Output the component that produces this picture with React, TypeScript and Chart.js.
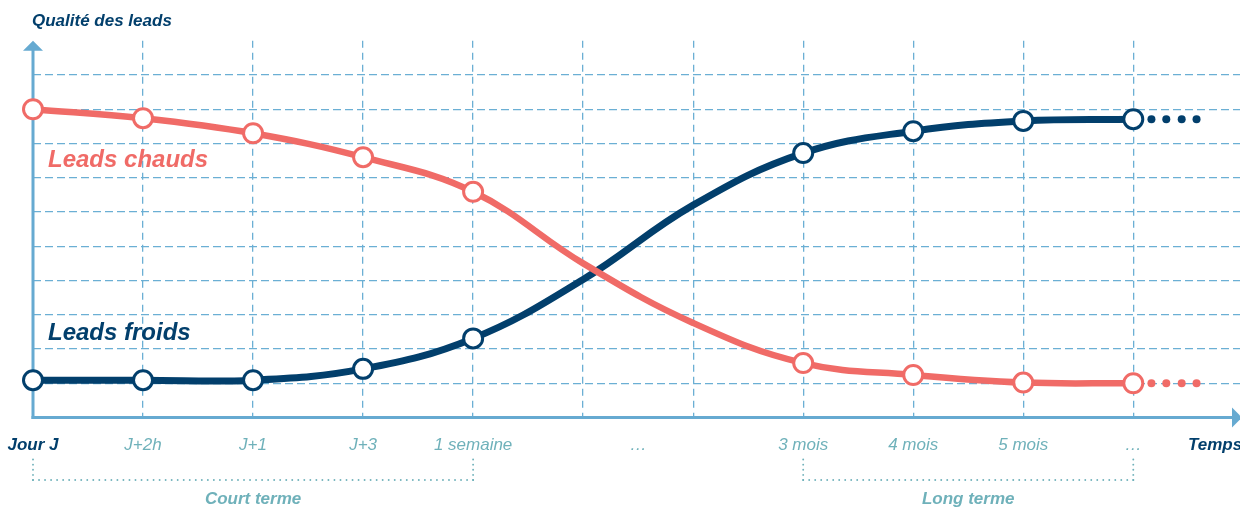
import React, { useEffect, useRef } from 'react';
import { Chart, registerables } from 'chart.js';

Chart.register(...registerables);

// ---- data ----
const xPositions = [0, 1, 2, 3, 4, 5, 6, 7, 8, 9, 10];
const hotLeads = [9.0, 8.74, 8.3, 7.6, 6.59, 4.5, 2.76, 1.59, 1.24, 1.02, 1.0];
const coldLeads = [1.09, 1.09, 1.09, 1.42, 2.31, 4.03, 6.2, 7.72, 8.36, 8.66, 8.71];
const markerShown = [true, true, true, true, true, false, false, true, true, true, true];
const tickLabels = ['Jour J', 'J+2h', 'J+1', 'J+3', '1 semaine', '…', '3 mois', '4 mois', '5 mois', '…'];
const tickLabelPositions = [0, 1, 2, 3, 4, 5.5, 7, 8, 9, 10];
const trailX = [10.165, 10.3, 10.44, 10.575];
const periodNames = ['Court terme', 'Long terme'];
const periodStarts = [0, 7];
const periodEnds = [4, 10];
const yTitle = 'Qualité des leads';
const xTitle = 'Temps';
const hotLabel = 'Leads chauds';
const coldLabel = 'Leads froids';

// ---- styles ----
const RED = '#F06B67';
const BLUE = '#023F6C';
const GRID = '#6BAFD4';
const AXIS = '#66AAD1';
const TEAL = '#6FB1BA';
const FONT = '"Liberation Sans", Arial, Helvetica, sans-serif';

const decorPlugin = {
  id: 'decor',
  beforeDatasetsDraw(chart: any) {
    const { ctx, chartArea: a, scales } = chart;
    const x = scales.x, y = scales.y;
    const x0 = x.getPixelForValue(0);
    const y0 = y.getPixelForValue(0);
    ctx.save();
    ctx.strokeStyle = AXIS;
    ctx.fillStyle = AXIS;
    ctx.lineWidth = 3;
    // y axis
    ctx.beginPath();
    ctx.moveTo(x0, y0 + 1.5);
    ctx.lineTo(x0, a.top + 6);
    ctx.stroke();
    ctx.beginPath();
    ctx.moveTo(x0, a.top);
    ctx.lineTo(x0 - 10, a.top + 10);
    ctx.lineTo(x0 + 10, a.top + 10);
    ctx.closePath();
    ctx.fill();
    // x axis
    ctx.beginPath();
    ctx.moveTo(x0 - 1.5, y0);
    ctx.lineTo(a.right - 6, y0);
    ctx.stroke();
    ctx.beginPath();
    ctx.moveTo(a.right + 2, y0);
    ctx.lineTo(a.right - 8, y0 - 10);
    ctx.lineTo(a.right - 8, y0 + 10);
    ctx.closePath();
    ctx.fill();
    ctx.restore();
  },
  afterDraw(chart: any) {
    const { ctx, scales } = chart;
    const x = scales.x, y = scales.y;
    const x0 = x.getPixelForValue(0);
    const y0 = y.getPixelForValue(0);
    ctx.save();
    ctx.textBaseline = 'middle';

    // axis titles
    ctx.fillStyle = BLUE;
    ctx.font = `italic bold 17px ${FONT}`;
    ctx.textAlign = 'left';
    ctx.fillText(yTitle, x0 - 1, 21);
    ctx.fillText(xTitle, 1188, y0 + 28);

    // series labels
    ctx.font = `italic bold 24px ${FONT}`;
    ctx.fillStyle = RED;
    ctx.fillText(hotLabel, x0 + 15, 160);
    ctx.fillStyle = BLUE;
    ctx.fillText(coldLabel, x0 + 15, 333);

    // tick labels
    ctx.textAlign = 'center';
    tickLabels.forEach((lab, i) => {
      const px = x.getPixelForValue(tickLabelPositions[i]);
      if (i === 0) {
        ctx.font = `italic bold 17px ${FONT}`;
        ctx.fillStyle = BLUE;
      } else {
        ctx.font = `italic 17px ${FONT}`;
        ctx.fillStyle = TEAL;
      }
      ctx.fillText(lab, px, y0 + 28);
    });

    // brackets
    ctx.fillStyle = TEAL;
    const dots = (xa: number, ya: number, xb: number, yb: number, step: number) => {
      const len = Math.hypot(xb - xa, yb - ya);
      const n = Math.max(1, Math.round(len / step));
      for (let k = 0; k <= n; k++) {
        const t = k / n;
        ctx.beginPath();
        ctx.arc(xa + (xb - xa) * t, ya + (yb - ya) * t, 0.95, 0, Math.PI * 2);
        ctx.fill();
      }
    };
    const by = y0 + 62.5;
    periodNames.forEach((name, i) => {
      const xa = x.getPixelForValue(periodStarts[i]);
      const xb = x.getPixelForValue(periodEnds[i]);
      dots(xa, y0 + 42, xa, by, 5);
      dots(xb, y0 + 42, xb, by, 5);
      dots(xa, by, xb, by, 6);
      ctx.font = `italic bold 17px ${FONT}`;
      ctx.fillStyle = TEAL;
      ctx.fillText(name, (xa + xb) / 2, y0 + 82);
    });
    ctx.restore();
  },
};

const lineDataset = (values: number[], color: string, width: number, order: number) => ({
  data: values.map((v, i) => ({ x: xPositions[i], y: v })),
  borderColor: color,
  borderWidth: width,
  backgroundColor: color,
  pointRadius: markerShown.map((s) => (s ? 9.5 : 0)),
  pointHoverRadius: markerShown.map((s) => (s ? 9.5 : 0)),
  pointBorderWidth: 3,
  pointBackgroundColor: '#FFFFFF',
  pointBorderColor: color,
  tension: 0.4,
  clip: false as const,
  order,
});

const trailDataset = (values: number[], color: string) => ({
  data: trailX.map((tx) => ({ x: tx, y: values[values.length - 1] })),
  showLine: false,
  pointRadius: 4,
  pointHoverRadius: 4,
  pointBorderWidth: 0,
  pointBackgroundColor: color,
  borderColor: color,
  clip: false as const,
  order: 3,
});

export default function App() {
  const ref = useRef<HTMLCanvasElement | null>(null);
  useEffect(() => {
    if (!ref.current) return;
    const chart = new Chart(ref.current, {
      type: 'line',
      data: {
        datasets: [
          lineDataset(hotLeads, RED, 6.5, 1),
          lineDataset(coldLeads, BLUE, 7, 2),
          trailDataset(hotLeads, RED),
          trailDataset(coldLeads, BLUE),
        ] as any,
      },
      options: {
        animation: false,
        responsive: false,
        devicePixelRatio: 1,
        events: [],
        layout: { autoPadding: false, padding: { left: 33, top: 40.75, right: 0, bottom: 90.5 } },
        plugins: { legend: { display: false }, tooltip: { enabled: false } },
        scales: {
          x: {
            type: 'linear',
            min: 0,
            max: 10.97,
            ticks: { display: false, stepSize: 1, includeBounds: false },
            grid: {
              drawTicks: false,
              lineWidth: 1.3,
              color: (c: any) => (c.tick && c.tick.value >= 1 && Number.isInteger(c.tick.value) ? GRID : 'rgba(0,0,0,0)'),
            },
            border: { display: false, dash: [7, 5] },
          },
          y: {
            type: 'linear',
            min: 0,
            max: 11,
            ticks: { display: false, stepSize: 1, includeBounds: false },
            grid: {
              drawTicks: false,
              lineWidth: 1.3,
              color: (c: any) => (c.tick && c.tick.value >= 1 && c.tick.value <= 10 ? GRID : 'rgba(0,0,0,0)'),
            },
            border: { display: false, dash: [8, 4] },
          },
        },
      } as any,
      plugins: [decorPlugin],
    });
    return () => chart.destroy();
  }, []);
  return (
    <div style={{ position: 'absolute', left: 0, top: 0, width: 1240, height: 508, background: '#fff' }}>
      <canvas ref={ref} width={1240} height={508} style={{ display: 'block', width: 1240, height: 508 }} />
    </div>
  );
}
